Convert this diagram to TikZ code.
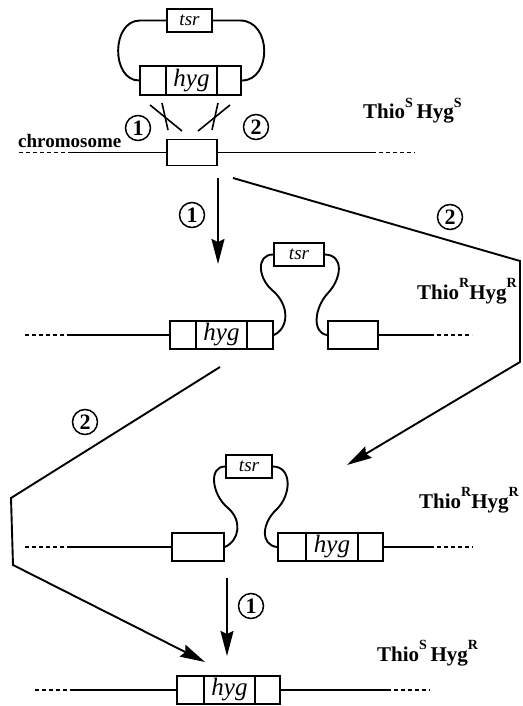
\documentclass[tikz,border=0pt]{standalone}
\usepackage{fontspec}
\setmainfont{Liberation Serif}
\usetikzlibrary{arrows.meta}
\newcommand\mysup[1]{\raisebox{0.55em}{\fontsize{14}{14}\selectfont #1}}
\begin{document}
\begin{tikzpicture}[x=1pt,y=-1pt,
  ln/.style={line width=1.9pt},
  thin/.style={line width=1.6pt},
  dsh/.style={line width=1.9pt, dash pattern=on 4pt off 3pt},
  gbox/.style={draw, line width=1.8pt, rectangle, inner sep=0pt, minimum height=28pt, anchor=center,
    font=\fontsize{25}{25}\selectfont\itshape},
  tbox/.style={draw, line width=1.8pt, rectangle, inner sep=0pt, minimum height=23pt,
    font=\fontsize{19}{19}\selectfont\itshape},
  num/.style={circle, draw, line width=1.5pt, minimum size=25pt, inner sep=0pt,
    font=\fontsize{22}{22}\selectfont\bfseries},
  lab/.style={font=\fontsize{21}{21}\selectfont\bfseries, inner sep=0pt, anchor=base west},
  arr/.style={line width=1.9pt, -{Stealth[length=25pt,width=13pt,inset=3pt]}},
]
\useasboundingbox (0,0) rectangle (522,706);

% ---------- plasmid ----------
\node[tbox, minimum width=45pt] (t0) at (189.5,20.5) {tsr};
\node[gbox, minimum width=26pt, minimum height=29pt] (l0) at (153,80.5) {};
\node[gbox, minimum width=51pt, minimum height=29pt] (h0) at (191.5,80.5) {hyg};
\node[gbox, minimum width=24pt, minimum height=29pt] (r0) at (229,80.5) {};
\draw[ln] (t0.west) -- (140,20.5) .. controls (111,20.5) and (111,80.5) .. (l0.west);
\draw[ln] (t0.east) -- (240,20.5) .. controls (272,20.5) and (272,80.5) .. (r0.east);

% crossovers
\draw[thin] (150,105) -- (182,131);
\draw[thin] (162,103) -- (168,130);
\draw[thin] (230,105) -- (198,131);
\draw[thin] (218,103) -- (212,130);
\node[num] (n1a) at (138,128) {1};
\node[num] (n2a) at (256,127) {2};

% ---------- chromosome ----------
\node[font=\fontsize{19}{19}\selectfont\bfseries, inner sep=0pt, anchor=base west] (chr) at (18,147) {chromosome};
\node[gbox, minimum width=50pt, minimum height=26pt] (c1) at (192,152.5) {};
\coordinate (c1a) at (19,152.5);
\coordinate (c1b) at (68,152.5);
\coordinate (c1c) at (372,152.5);
\coordinate (c1d) at (415,152.5);
\draw[dsh] (c1a) -- (c1b);
\draw[ln] (c1b) -- (c1.west);
\draw[ln] (c1.east) -- (c1c);
\draw[dsh] (c1c) -- (c1d);
\node[lab] (lab1) at (363,119) {Thio\mysup{S}\,Hyg\mysup{S}};

% arrows from row 1
\coordinate (a1s) at (218,178);
\coordinate (a1e) at (218,264);
\draw[arr] (a1s) -- (a1e);
\node[num] (n1b) at (192,215) {1};

\coordinate (b2s) at (233,178);
\coordinate (b2c1) at (520,261);
\coordinate (b2c2) at (520,362);
\coordinate (b2e) at (347,465);
\draw[arr] (b2s) -- (b2c1) -- (b2c2) -- (b2e);
\node[num] (n2b) at (450,217) {2};

% ---------- row 2 ----------
\node[gbox, minimum width=26pt] (l2) at (183,335) {};
\node[gbox, minimum width=51pt] (h2) at (221.5,335) {hyg};
\node[gbox, minimum width=26pt] (r2) at (260,335) {};
\node[tbox, minimum width=50pt] (t2) at (299,254.5) {tsr};
\node[gbox, minimum width=50pt] (e2) at (353,335) {};
\coordinate (row2a) at (25,335);
\coordinate (row2b) at (70,335);
\coordinate (row2c) at (430,335);
\coordinate (row2d) at (472,335);
\draw[dsh] (row2a) -- (row2b);
\draw[ln] (row2b) -- (l2.west);
\draw[ln] (e2.east) -- (row2c);
\draw[dsh] (row2c) -- (row2d);
\draw[ln] (r2.east) .. controls (289,328) and (290,305) .. (272,290)
  .. controls (258,278) and (256,254.5) .. (t2.west);
\draw[ln] (t2.east) .. controls (344,255) and (342,278) .. (328,293)
  .. controls (314,308) and (312,333) .. (e2.west);
\node[lab] (lab2) at (417,299) {Thio\mysup{R}Hyg\mysup{R}};

\coordinate (d2s) at (220,367);
\coordinate (d2c1) at (11,498);
\coordinate (d2c2) at (13,565);
\coordinate (d2e) at (205,662);
\draw[arr] (d2s) -- (d2c1) -- (d2c2) -- (d2e);
\node[num] (n2c) at (85,422) {2};

% ---------- row 3 ----------
\node[gbox, minimum width=52pt] (l3) at (198,547) {};
\node[tbox, minimum width=46pt] (t3) at (249,466.5) {tsr};
\node[gbox, minimum width=28pt] (f3a) at (292,547) {};
\node[gbox, minimum width=52pt] (h3) at (332,547) {hyg};
\node[gbox, minimum width=25pt] (f3b) at (370.5,547) {};
\coordinate (row3a) at (25,547);
\coordinate (row3b) at (70,547);
\coordinate (row3c) at (430,547);
\coordinate (row3d) at (473,547);
\draw[dsh] (row3a) -- (row3b);
\draw[ln] (row3b) -- (l3.west);
\draw[ln] (f3b.east) -- (row3c);
\draw[dsh] (row3c) -- (row3d);
\draw[ln] (l3.east) .. controls (240,540) and (242,520) .. (228,508)
  .. controls (212,495) and (208,466.5) .. (t3.west);
\draw[ln] (t3.east) .. controls (292,466.5) and (292,495) .. (276,510)
  .. controls (262,523) and (260,545) .. (f3a.west);
\node[lab] (lab3) at (419,508) {Thio\mysup{R}Hyg\mysup{R}};

\coordinate (a3s) at (227,578);
\coordinate (a3e) at (227,656);
\draw[arr] (a3s) -- (a3e);
\node[num] (n1c) at (251,606) {1};

% ---------- row 4 ----------
\node[gbox, minimum width=27pt] (f4a) at (190.5,690) {};
\node[gbox, minimum width=51pt] (h4) at (229.5,690) {hyg};
\node[gbox, minimum width=25pt] (f4b) at (267.5,690) {};
\coordinate (row4a) at (35,690);
\coordinate (row4b) at (73,690);
\coordinate (row4c) at (387,690);
\coordinate (row4d) at (430,690);
\draw[dsh] (row4a) -- (row4b);
\draw[ln] (row4b) -- (f4a.west);
\draw[ln] (f4b.east) -- (row4c);
\draw[dsh] (row4c) -- (row4d);
\node[lab] (lab4) at (377,661) {Thio\mysup{S}\,Hyg\mysup{R}};
\end{tikzpicture}
\end{document}
